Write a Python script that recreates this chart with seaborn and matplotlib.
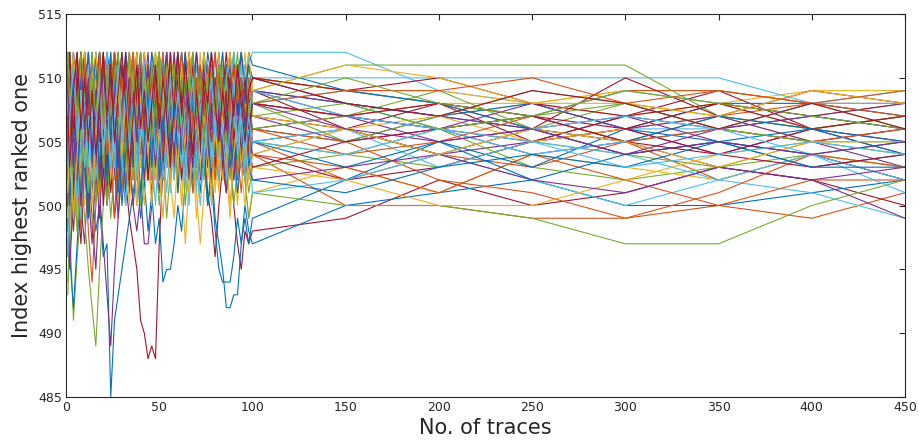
import matplotlib
matplotlib.use("Agg")
import matplotlib.pyplot as plt
import seaborn as sns
import pandas as pd

# Number of traces used at each evaluation step
x_pos = [1] + list(range(2, 101, 2)) + list(range(150, 451, 50))

# Index of the highest ranked candidate for each experiment run
s00 = [507, 503, 509, 505, 501, 504, 499, 501, 498, 500, 496,
       497, 485, 491, 493, 495, 497, 499, 501, 503, 500,
       505, 502, 506, 503, 507, 504, 508, 505, 503, 506,
       502, 505, 508, 504, 507, 503, 506, 509, 505, 507,
       504, 508, 505, 503, 506, 504, 507, 505, 508, 506,
       505, 507, 506, 504, 505, 503, 504]
s01 = [510, 512, 506, 509, 503, 507, 511, 505, 508, 502, 506,
       509, 504, 510, 507, 511, 505, 508, 503, 507, 510,
       506, 509, 504, 508, 511, 507, 505, 509, 506, 510,
       507, 504, 508, 505, 509, 506, 503, 507, 504, 508,
       505, 502, 506, 503, 507, 504, 501, 505, 502, 504,
       500, 500, 499, 499, 500, 499, 501]
s02 = [500, 504, 498, 502, 506, 500, 503, 507, 501, 505, 509,
       504, 508, 502, 506, 510, 505, 509, 503, 507, 511,
       506, 510, 504, 508, 512, 507, 503, 506, 510, 505,
       509, 504, 507, 511, 506, 509, 504, 508, 505, 510,
       507, 504, 509, 506, 511, 508, 505, 509, 507, 510,
       508, 507, 508, 509, 508, 509, 509]
s03 = [505, 509, 502, 506, 500, 497, 503, 499, 495, 501, 497,
       493, 489, 495, 499, 503, 500, 505, 502, 507, 504,
       508, 505, 510, 506, 503, 507, 504, 509, 506, 511,
       507, 504, 508, 505, 510, 506, 509, 505, 507, 503,
       506, 509, 505, 508, 504, 507, 510, 506, 509, 507,
       505, 506, 505, 507, 506, 505, 503]
s04 = [494, 498, 491, 496, 500, 503, 499, 505, 501, 506, 502,
       507, 503, 508, 504, 509, 505, 510, 506, 502, 507,
       504, 508, 505, 509, 506, 503, 507, 510, 506, 508,
       505, 509, 506, 502, 505, 508, 504, 507, 503, 506,
       509, 505, 508, 504, 506, 503, 507, 504, 506, 505,
       504, 503, 505, 504, 503, 505, 505]
s05 = [512, 508, 512, 506, 510, 512, 507, 511, 509, 512, 505,
       509, 512, 507, 511, 508, 512, 510, 506, 511, 508,
       512, 509, 506, 510, 512, 508, 511, 507, 510, 512,
       509, 511, 506, 510, 512, 508, 511, 509, 512, 510,
       507, 511, 509, 512, 508, 510, 512, 509, 511, 512,
       512, 509, 508, 506, 506, 505, 504]
s06 = [503, 499, 506, 501, 497, 503, 508, 502, 506, 500, 504,
       507, 502, 506, 500, 503, 502, 499, 497, 495, 491,
       490, 488, 489, 488, 497, 503, 507, 502, 506, 504,
       508, 505, 509, 503, 507, 504, 508, 506, 510, 505,
       507, 504, 508, 506, 509, 505, 508, 503, 506, 509,
       506, 508, 505, 507, 509, 506, 507]
s07 = [508, 511, 505, 509, 512, 507, 510, 504, 508, 511, 506,
       509, 505, 510, 506, 503, 507, 504, 500, 503, 499,
       502, 498, 501, 497, 499, 494, 495, 495, 497, 500,
       498, 502, 505, 501, 504, 507, 503, 506, 509, 505,
       508, 504, 507, 510, 506, 509, 505, 508, 511, 509,
       508, 506, 507, 505, 506, 507, 506]
s08 = [506, 502, 508, 503, 499, 504, 498, 494, 500, 505, 501,
       506, 503, 508, 504, 509, 505, 502, 507, 503, 508,
       504, 509, 506, 511, 507, 504, 508, 505, 510, 506,
       509, 505, 502, 506, 509, 504, 507, 510, 506, 508,
       503, 507, 504, 508, 505, 509, 506, 503, 507, 505,
       502, 504, 503, 505, 502, 504, 502]
s09 = [511, 507, 512, 509, 505, 510, 512, 506, 511, 508, 512,
       507, 510, 512, 508, 511, 506, 510, 512, 509, 505,
       510, 507, 511, 512, 508, 510, 506, 509, 512, 508,
       511, 507, 510, 512, 506, 509, 511, 507, 510, 506,
       509, 512, 507, 510, 508, 511, 506, 509, 507, 510,
       509, 508, 508, 509, 509, 508, 507]
s10 = [502, 506, 500, 504, 508, 503, 507, 501, 505, 509, 504,
       500, 503, 499, 502, 506, 501, 504, 500, 498, 501,
       497, 497, 500, 504, 501, 505, 509, 503, 507, 504,
       508, 505, 510, 506, 503, 507, 511, 506, 509, 505,
       508, 504, 507, 505, 509, 506, 503, 506, 508, 505,
       506, 504, 505, 506, 504, 506, 504]
s11 = [500, 496, 502, 498, 503, 499, 495, 492, 489, 495, 500,
       504, 499, 503, 507, 502, 506, 501, 505, 509, 504,
       507, 503, 508, 504, 500, 504, 499, 503, 507, 502,
       506, 503, 507, 504, 509, 505, 502, 506, 503, 507,
       504, 508, 505, 502, 506, 503, 507, 504, 501, 503,
       504, 506, 503, 502, 503, 504, 503]
s12 = [509, 512, 505, 510, 507, 512, 508, 504, 509, 512, 506,
       510, 507, 512, 508, 504, 509, 511, 506, 510, 507,
       511, 508, 512, 509, 505, 510, 507, 511, 508, 512,
       509, 506, 510, 507, 511, 508, 512, 509, 506, 510,
       507, 511, 508, 512, 509, 506, 510, 508, 511, 510,
       510, 510, 510, 510, 510, 508, 509]
s13 = [504, 508, 501, 506, 510, 503, 507, 511, 505, 509, 502,
       506, 510, 504, 508, 503, 507, 511, 505, 509, 506,
       502, 506, 509, 504, 508, 505, 510, 506, 503, 507,
       504, 508, 505, 509, 506, 502, 505, 501, 499, 496,
       500, 503, 501, 504, 500, 497, 495, 498, 497, 498,
       499, 502, 500, 501, 503, 502, 500]
s14 = [506, 510, 503, 508, 512, 505, 509, 503, 507, 511, 504,
       508, 512, 506, 510, 505, 509, 503, 507, 511, 506,
       509, 505, 510, 507, 503, 508, 504, 509, 506, 510,
       507, 503, 506, 502, 505, 501, 504, 500, 502, 498,
       495, 494, 494, 494, 496, 499, 497, 500, 498, 497,
       500, 501, 502, 500, 500, 501, 502]
s15 = [512, 507, 511, 505, 509, 512, 506, 510, 504, 508, 512,
       506, 510, 505, 509, 512, 507, 511, 505, 508, 512,
       507, 510, 505, 509, 512, 506, 510, 507, 511, 505,
       509, 512, 506, 510, 507, 511, 505, 509, 512, 508,
       511, 506, 510, 507, 512, 508, 505, 509, 511, 510,
       509, 508, 507, 509, 509, 508, 509]
s16 = [497, 501, 505, 499, 503, 507, 502, 498, 504, 500, 506,
       502, 507, 503, 500, 505, 501, 506, 502, 508, 504,
       500, 505, 502, 506, 503, 499, 504, 508, 503, 506,
       502, 497, 502, 505, 501, 497, 501, 504, 500, 505,
       501, 506, 503, 499, 504, 500, 505, 502, 499, 501,
       503, 501, 504, 503, 502, 504, 503]
s17 = [510, 506, 512, 508, 503, 509, 512, 506, 510, 507, 511,
       505, 509, 512, 507, 510, 504, 508, 511, 506, 509,
       512, 508, 505, 509, 511, 506, 510, 507, 512, 508,
       505, 509, 512, 507, 510, 506, 509, 511, 507, 510,
       506, 509, 511, 507, 510, 508, 512, 509, 506, 509,
       508, 507, 506, 507, 505, 504, 502]
s18 = [507, 510, 504, 509, 512, 506, 510, 505, 509, 512, 507,
       510, 505, 509, 512, 506, 511, 507, 504, 508, 511,
       506, 510, 507, 512, 508, 505, 509, 511, 507, 510,
       512, 508, 511, 506, 510, 507, 512, 509, 506, 510,
       508, 511, 507, 510, 512, 509, 511, 508, 510, 509,
       511, 511, 511, 511, 507, 506, 507]
s19 = [503, 507, 500, 505, 509, 502, 506, 510, 504, 508, 501,
       505, 509, 503, 507, 502, 506, 510, 505, 508, 503,
       506, 502, 507, 504, 509, 505, 501, 505, 508, 503,
       507, 504, 509, 505, 502, 506, 503, 508, 504, 507,
       503, 507, 504, 508, 505, 502, 506, 503, 507, 504,
       506, 504, 502, 500, 502, 501, 499]
s20 = [509, 505, 511, 507, 512, 508, 504, 509, 506, 511, 507,
       503, 508, 511, 506, 510, 507, 512, 508, 504, 509,
       505, 510, 507, 511, 506, 509, 512, 508, 505, 509,
       511, 507, 504, 508, 512, 509, 505, 508, 511, 506,
       510, 507, 511, 508, 505, 509, 506, 510, 508, 507,
       506, 504, 506, 510, 507, 509, 508]
s21 = [501, 496, 492, 497, 502, 506, 500, 505, 509, 503, 507,
       502, 506, 510, 505, 509, 503, 507, 511, 506, 510,
       505, 509, 504, 508, 512, 507, 511, 506, 510, 504,
       508, 505, 509, 506, 503, 507, 504, 500, 503, 499,
       497, 495, 492, 492, 493, 493, 497, 499, 497, 499,
       502, 505, 503, 506, 505, 504, 505]
s22 = [504, 500, 507, 502, 498, 505, 510, 503, 508, 501, 506,
       510, 504, 499, 505, 501, 506, 510, 503, 508, 505,
       509, 504, 501, 506, 502, 507, 504, 509, 505, 502,
       506, 510, 505, 501, 504, 508, 503, 507, 502, 505,
       509, 504, 507, 503, 506, 502, 505, 508, 504, 506,
       505, 502, 501, 499, 501, 504, 503]
s23 = [508, 512, 504, 509, 506, 511, 505, 510, 507, 512, 509,
       504, 508, 512, 506, 510, 507, 511, 505, 509, 512,
       508, 505, 510, 512, 507, 509, 505, 510, 508, 512,
       507, 511, 509, 504, 508, 512, 506, 510, 507, 509,
       512, 508, 511, 506, 510, 507, 509, 512, 508, 510,
       509, 509, 508, 507, 508, 506, 507]
s24 = [496, 502, 498, 504, 500, 506, 501, 497, 503, 499, 505,
       501, 507, 503, 499, 504, 508, 502, 506, 503, 507,
       504, 509, 505, 502, 507, 503, 508, 504, 510, 506,
       503, 507, 504, 509, 505, 502, 506, 510, 505, 508,
       504, 507, 503, 506, 509, 505, 508, 504, 507, 506,
       507, 505, 506, 504, 506, 507, 506]
s25 = [502, 506, 499, 504, 500, 505, 509, 503, 507, 501, 505,
       500, 504, 508, 502, 506, 501, 505, 509, 504, 500,
       503, 507, 502, 506, 510, 504, 508, 503, 507, 501,
       505, 500, 504, 507, 502, 505, 509, 504, 501, 505,
       502, 506, 501, 504, 500, 503, 507, 502, 499, 501,
       500, 500, 499, 497, 497, 500, 502]
s26 = [511, 508, 512, 506, 510, 507, 512, 509, 505, 510, 506,
       511, 508, 504, 509, 512, 507, 510, 506, 511, 508,
       504, 509, 506, 511, 508, 512, 509, 505, 510, 507,
       511, 506, 509, 512, 508, 505, 510, 507, 511, 509,
       506, 510, 507, 509, 512, 508, 511, 507, 510, 508,
       509, 508, 507, 509, 508, 507, 508]
s27 = [505, 509, 502, 507, 511, 504, 508, 502, 506, 510, 503,
       507, 502, 506, 509, 504, 508, 501, 505, 509, 503,
       507, 503, 506, 510, 505, 502, 506, 509, 504, 507,
       502, 506, 509, 504, 507, 503, 508, 505, 502, 506,
       509, 505, 502, 506, 503, 507, 504, 502, 505, 504,
       502, 503, 505, 506, 504, 506, 505]
s28 = [512, 509, 512, 507, 511, 508, 512, 506, 510, 512, 508,
       512, 510, 506, 511, 508, 512, 509, 505, 510, 507,
       511, 508, 512, 510, 506, 509, 512, 507, 511, 508,
       512, 509, 506, 510, 507, 511, 508, 512, 510, 506,
       509, 512, 508, 511, 507, 510, 512, 509, 511, 510,
       508, 507, 508, 506, 508, 508, 507]
s29 = [498, 503, 507, 501, 506, 510, 504, 509, 503, 507, 511,
       505, 510, 506, 502, 507, 503, 508, 504, 500, 505,
       509, 504, 508, 503, 507, 511, 506, 510, 504, 508,
       503, 507, 502, 506, 510, 505, 508, 504, 509, 505,
       502, 506, 503, 507, 504, 508, 505, 502, 506, 504,
       503, 501, 504, 502, 500, 502, 502]
s30 = [506, 510, 503, 508, 512, 505, 509, 503, 507, 510, 504,
       508, 504, 509, 505, 510, 506, 502, 507, 503, 508,
       505, 510, 506, 502, 507, 504, 509, 506, 511, 507,
       503, 508, 505, 509, 506, 510, 505, 508, 504, 507,
       511, 507, 510, 506, 509, 505, 508, 506, 510, 507,
       506, 507, 505, 506, 507, 505, 506]
s31 = [509, 504, 510, 506, 512, 507, 503, 508, 512, 506, 510,
       506, 511, 507, 503, 508, 511, 505, 509, 506, 511,
       507, 510, 506, 509, 505, 508, 512, 507, 504, 509,
       506, 510, 507, 512, 508, 504, 509, 506, 510, 507,
       503, 507, 510, 506, 509, 505, 508, 511, 506, 508,
       507, 506, 504, 505, 503, 502, 499]
s32 = [500, 505, 509, 503, 508, 502, 506, 511, 505, 509, 503,
       507, 511, 505, 510, 506, 502, 507, 511, 506, 509,
       505, 509, 503, 507, 511, 506, 510, 504, 508, 505,
       509, 505, 510, 507, 503, 508, 504, 509, 506, 502,
       506, 510, 507, 503, 507, 504, 508, 505, 509, 506,
       507, 509, 506, 508, 507, 506, 507]
s33 = [505, 501, 508, 503, 499, 505, 509, 502, 507, 511, 504,
       509, 503, 507, 512, 506, 510, 504, 508, 502, 506,
       510, 506, 503, 508, 504, 509, 505, 501, 506, 503,
       507, 504, 500, 505, 501, 506, 509, 503, 507, 504,
       508, 505, 503, 507, 504, 508, 505, 502, 506, 505,
       506, 503, 505, 504, 502, 504, 501]
s34 = [512, 507, 511, 505, 509, 512, 508, 504, 510, 507, 512,
       508, 511, 505, 510, 507, 512, 506, 509, 512, 507,
       510, 506, 511, 508, 505, 510, 507, 512, 509, 505,
       508, 512, 507, 510, 506, 509, 511, 507, 510, 508,
       505, 509, 512, 508, 511, 507, 510, 506, 509, 510,
       509, 510, 508, 507, 508, 507, 508]
s35 = [503, 508, 501, 506, 510, 504, 499, 505, 509, 503, 508,
       504, 509, 506, 501, 505, 509, 503, 508, 504, 510,
       506, 502, 507, 510, 505, 509, 503, 508, 505, 501,
       506, 509, 504, 508, 505, 510, 506, 503, 507, 504,
       508, 505, 509, 506, 502, 505, 509, 506, 503, 505,
       503, 505, 502, 504, 505, 506, 504]
s36 = [507, 511, 505, 510, 506, 512, 508, 503, 509, 505, 510,
       512, 507, 511, 506, 510, 505, 509, 512, 508, 504,
       509, 505, 510, 507, 512, 508, 504, 509, 511, 506,
       510, 507, 512, 509, 505, 510, 506, 511, 508, 504,
       509, 506, 510, 512, 507, 511, 508, 506, 510, 508,
       507, 508, 506, 505, 507, 508, 508]
s37 = [502, 498, 504, 509, 503, 507, 501, 506, 510, 504, 508,
       503, 507, 511, 505, 509, 504, 500, 505, 509, 503,
       508, 504, 500, 505, 509, 503, 507, 502, 499, 504,
       500, 505, 509, 504, 499, 503, 507, 502, 506, 501,
       505, 502, 506, 509, 504, 507, 503, 500, 504, 503,
       502, 500, 500, 502, 504, 505, 504]
s38 = [510, 512, 506, 511, 507, 503, 508, 512, 506, 510, 505,
       510, 506, 512, 508, 504, 509, 512, 507, 510, 505,
       509, 512, 507, 510, 506, 511, 508, 504, 509, 512,
       507, 510, 505, 509, 512, 508, 511, 506, 509, 512,
       508, 506, 510, 507, 511, 509, 506, 510, 508, 509,
       507, 506, 508, 506, 507, 505, 506]
s39 = [493, 499, 504, 498, 502, 507, 501, 505, 500, 504, 508,
       502, 506, 510, 504, 508, 503, 507, 502, 505, 509,
       503, 507, 511, 505, 509, 504, 508, 506, 502, 507,
       511, 506, 509, 504, 508, 505, 510, 507, 503, 506,
       510, 506, 509, 505, 508, 504, 507, 510, 506, 508,
       505, 507, 509, 508, 506, 508, 506]
s40 = [508, 504, 510, 506, 512, 507, 511, 505, 509, 504, 508,
       512, 506, 510, 507, 503, 508, 511, 505, 510, 506,
       502, 507, 510, 505, 508, 512, 506, 509, 505, 510,
       507, 503, 508, 511, 505, 509, 506, 510, 504, 508,
       505, 509, 506, 510, 507, 504, 508, 511, 507, 509,
       507, 506, 504, 505, 506, 504, 502]
s41 = [500, 505, 509, 502, 507, 511, 504, 509, 503, 507, 500,
       505, 501, 506, 510, 503, 507, 502, 506, 510, 504,
       508, 502, 506, 509, 504, 508, 503, 507, 510, 505,
       509, 504, 507, 503, 508, 505, 509, 504, 508, 503,
       507, 503, 506, 509, 505, 508, 504, 507, 505, 503,
       505, 506, 507, 506, 508, 506, 507]
s42 = [511, 506, 510, 512, 505, 509, 504, 508, 512, 507, 511,
       507, 503, 508, 512, 506, 510, 505, 509, 512, 507,
       511, 507, 504, 509, 512, 506, 510, 507, 511, 506,
       509, 512, 507, 510, 505, 509, 512, 508, 505, 509,
       512, 508, 511, 506, 509, 507, 510, 508, 512, 511,
       509, 508, 506, 505, 507, 506, 505]
s43 = [504, 509, 503, 507, 511, 505, 509, 502, 506, 510, 505,
       509, 504, 508, 503, 507, 511, 506, 509, 504, 508,
       503, 507, 510, 505, 509, 504, 508, 502, 506, 509,
       504, 508, 503, 507, 510, 506, 509, 504, 507, 502,
       506, 509, 505, 508, 504, 507, 503, 507, 504, 506,
       504, 505, 507, 505, 506, 505, 506]
s44 = [512, 509, 512, 508, 511, 512, 506, 510, 512, 508, 511,
       506, 510, 512, 508, 511, 507, 512, 509, 512, 508,
       512, 510, 507, 511, 512, 508, 510, 512, 509, 507,
       511, 508, 512, 510, 506, 509, 512, 508, 511, 509,
       512, 507, 510, 512, 509, 511, 508, 510, 512, 509,
       511, 510, 508, 508, 507, 509, 508]
s45 = [499, 495, 501, 506, 500, 505, 509, 503, 508, 502, 506,
       511, 505, 509, 503, 507, 501, 505, 509, 504, 507,
       502, 506, 509, 504, 507, 502, 505, 509, 503, 507,
       504, 508, 502, 506, 509, 505, 508, 503, 507, 504,
       508, 504, 501, 505, 502, 506, 503, 507, 504, 502,
       503, 504, 502, 501, 503, 502, 503]
s46 = [507, 511, 504, 509, 505, 510, 506, 512, 507, 511, 505,
       510, 506, 511, 507, 503, 508, 512, 506, 510, 505,
       510, 505, 509, 506, 511, 507, 503, 508, 511, 506,
       510, 506, 509, 505, 508, 511, 507, 510, 506, 509,
       504, 508, 505, 509, 506, 510, 507, 504, 508, 507,
       508, 506, 507, 508, 506, 505, 505]
s47 = [496, 502, 506, 500, 505, 509, 503, 508, 502, 506, 510,
       504, 509, 503, 508, 504, 500, 505, 510, 504, 508,
       503, 508, 504, 500, 505, 509, 503, 507, 502, 506,
       503, 508, 505, 509, 504, 500, 504, 507, 503, 507,
       502, 506, 510, 505, 508, 504, 507, 503, 506, 501,
       502, 504, 506, 507, 506, 508, 508]
s48 = [509, 512, 505, 510, 506, 511, 507, 503, 508, 512, 506,
       503, 508, 512, 507, 511, 506, 510, 504, 509, 512,
       507, 511, 506, 510, 507, 503, 508, 512, 506, 510,
       506, 510, 507, 511, 508, 504, 509, 506, 510, 507,
       511, 506, 509, 505, 508, 511, 507, 510, 506, 508,
       507, 508, 507, 505, 504, 503, 504]
s49 = [505, 500, 506, 502, 508, 503, 499, 504, 508, 503, 507,
       502, 506, 510, 505, 500, 504, 508, 503, 507, 501,
       505, 509, 503, 507, 502, 506, 510, 505, 508, 503,
       507, 502, 506, 509, 505, 508, 503, 506, 502, 505,
       508, 504, 507, 503, 505, 501, 504, 507, 503, 502,
       501, 503, 504, 503, 505, 503, 503]
s50 = [510, 505, 508, 512, 507, 511, 505, 509, 506, 512, 508,
       504, 509, 512, 507, 510, 505, 509, 512, 506, 510,
       506, 511, 508, 504, 509, 512, 507, 510, 506, 509,
       512, 508, 505, 510, 507, 511, 508, 505, 509, 512,
       507, 510, 506, 509, 511, 508, 510, 507, 509, 508,
       509, 509, 510, 508, 509, 508, 507]
s51 = [501, 505, 499, 504, 509, 503, 507, 500, 505, 510, 504,
       508, 502, 506, 510, 504, 508, 503, 507, 500, 505,
       509, 504, 508, 502, 506, 510, 505, 502, 506, 503,
       508, 504, 501, 505, 509, 503, 507, 504, 501, 506,
       503, 507, 504, 500, 504, 507, 503, 506, 502, 504,
       506, 504, 506, 505, 503, 505, 505]
s52 = [506, 510, 503, 508, 512, 506, 510, 504, 509, 505, 511,
       506, 510, 507, 503, 508, 511, 505, 509, 505, 510,
       506, 511, 507, 503, 508, 505, 510, 507, 504, 508,
       505, 510, 506, 503, 507, 510, 505, 509, 506, 510,
       507, 504, 508, 505, 510, 506, 509, 507, 505, 508,
       506, 505, 506, 504, 505, 504, 505]
s53 = [512, 508, 511, 507, 512, 509, 505, 510, 507, 511, 506,
       511, 507, 510, 512, 506, 509, 505, 510, 507, 512,
       508, 510, 505, 509, 512, 507, 511, 506, 509, 511,
       506, 510, 508, 512, 507, 510, 505, 509, 511, 507,
       511, 508, 510, 506, 509, 512, 508, 505, 509, 508,
       510, 508, 507, 509, 508, 507, 506]
s54 = [503, 507, 511, 505, 509, 503, 507, 502, 506, 510, 504,
       509, 503, 507, 511, 505, 509, 504, 508, 503, 506,
       511, 506, 509, 504, 507, 502, 506, 510, 505, 509,
       506, 502, 507, 510, 505, 508, 503, 507, 510, 505,
       509, 506, 502, 506, 510, 505, 508, 504, 507, 505,
       504, 506, 505, 503, 504, 505, 504]
s55 = [507, 503, 509, 512, 506, 510, 505, 509, 504, 508, 512,
       507, 511, 505, 509, 512, 508, 503, 507, 511, 506,
       509, 505, 508, 511, 506, 510, 507, 503, 508, 512,
       507, 511, 508, 504, 509, 505, 510, 508, 512, 508,
       505, 509, 506, 510, 507, 511, 508, 505, 509, 510,
       508, 507, 509, 508, 506, 508, 506]

runs = [s00, s01, s02, s03, s04, s05, s06, s07, s08, s09, s10, s11, s12, s13,
        s14, s15, s16, s17, s18, s19, s20, s21, s22, s23, s24, s25, s26, s27,
        s28, s29, s30, s31, s32, s33, s34, s35, s36, s37, s38, s39, s40, s41,
        s42, s43, s44, s45, s46, s47, s48, s49, s50, s51, s52, s53, s54, s55]

frames = []
for i, vals in enumerate(runs):
    frames.append(pd.DataFrame({"traces": x_pos, "index": vals, "run": i}))
df = pd.concat(frames, ignore_index=True)

# MATLAB-style default line colour order
order = ["#0072BD", "#D95319", "#EDB120", "#7E2F8E", "#77AC30", "#4DBEEE", "#A2142F"]
palette = [order[i % len(order)] for i in range(len(runs))]

sns.set_theme(style="white")
plt.rcParams["font.family"] = ["DejaVu Sans"]

fig = plt.figure(figsize=(9.2, 4.44), dpi=100)
ax = fig.add_axes([66 / 920, 1 - 397 / 444, (905 - 66) / 920, (397 - 14) / 444])

sns.lineplot(data=df, x="traces", y="index", hue="run", palette=palette,
             estimator=None, sort=False, legend=False, linewidth=0.8, ax=ax)

ax.set_xlim(0, 450)
ax.set_ylim(485, 515)
ax.set_xticks(range(0, 451, 50))
ax.set_yticks(range(485, 516, 5))
ax.tick_params(direction="in", length=4, width=0.8, top=True, right=True,
               labelsize=9, colors="#262626", pad=3)
for sp in ax.spines.values():
    sp.set_color("#262626")
    sp.set_linewidth(0.8)
ax.set_xlabel("No. of traces", fontsize=15, color="#262626", labelpad=3)
ax.set_ylabel("Index highest ranked one", fontsize=15, color="#262626", labelpad=4)

fig.savefig("out.png", dpi=100)
